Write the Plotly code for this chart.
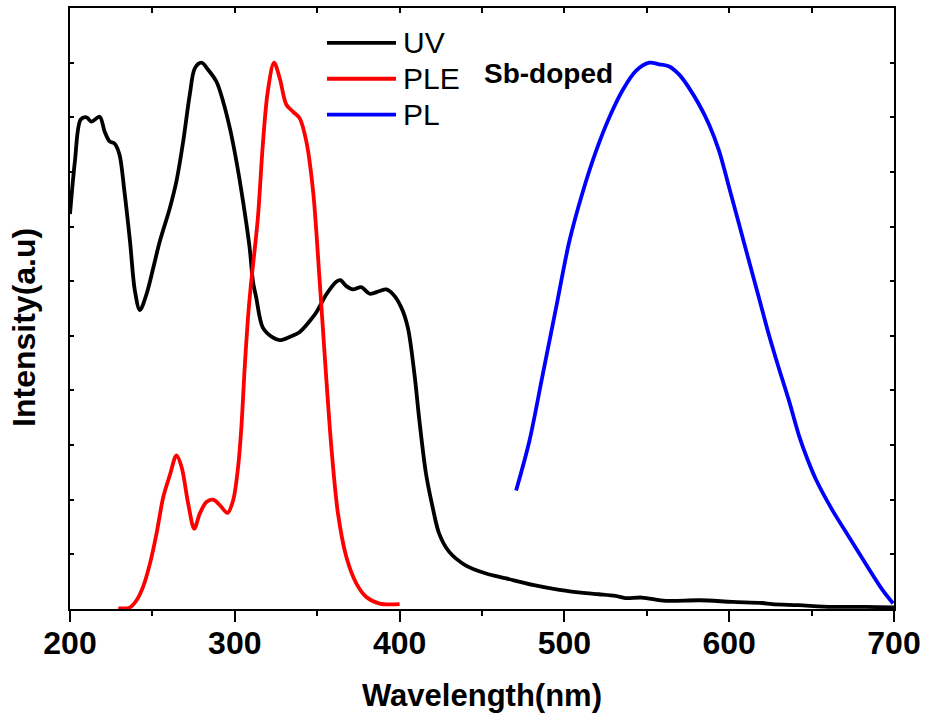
import plotly.graph_objects as go

# UV absorption spectrum
uv_wl = [200, 203, 206.5, 210, 213, 218, 221, 224, 227, 230, 233, 236.4, 239.4, 242.4,
         246.5, 250.5, 254.5, 260.6, 264.6, 268.7, 272.7, 275.8, 279.8, 283.8, 288.9,
         292.9, 297, 301, 305, 309, 311, 313, 317, 323, 327.3, 333.3, 339.4, 345.5,
         349.5, 355.6, 361.6, 364, 367.7, 371.7, 376.8, 381.8, 387.9, 391.9, 396, 401,
         405, 409, 412, 416, 420, 424, 430, 440, 452.5, 464.6, 480.8, 497, 513, 521,
         531, 537, 547, 561.6, 582, 602, 620, 626, 642, 662.6, 682.8, 700]
uv_int = [7.23, 8.2, 8.96, 9.0, 8.92, 9.01, 8.74, 8.56, 8.52, 8.32, 7.65, 6.73, 5.82, 5.47,
          5.77, 6.24, 6.73, 7.34, 7.83, 8.56, 9.42, 9.9, 10.0, 9.87, 9.65,
          9.29, 8.8, 8.19, 7.46, 6.61, 6.0, 5.7, 5.15, 4.97, 4.92, 4.98, 5.07, 5.27,
          5.43, 5.76, 5.99, 6.02, 5.91, 5.85, 5.89, 5.77, 5.82, 5.85, 5.76, 5.52,
          5.15, 4.3, 3.45, 2.48, 1.87, 1.38, 1.05, 0.80, 0.65, 0.56, 0.44, 0.35, 0.29, 0.27,
          0.24, 0.2, 0.21, 0.15, 0.16, 0.13, 0.11, 0.09, 0.07, 0.04, 0.04, 0.03]

# Photoluminescence excitation spectrum
ple_wl = [229.3, 236.4, 240.4, 244.4, 248.5, 252.5, 256.6, 260.6, 264.6, 267.7, 271.7,
          275.4, 278.8, 282.8, 286.9, 290.9, 295.6, 299, 302, 304, 306, 308, 309.5, 314,
          317, 320, 323.8, 327.3, 331.3, 335.4, 339.4, 343.4, 347.5, 351.5, 355.6, 358.6,
          362.6, 367.7, 373.7, 379.8, 387.9, 400]
ple_int = [0.01, 0.03, 0.16, 0.41, 0.83, 1.38, 2.05, 2.45, 2.81, 2.6, 1.93,
           1.47, 1.75, 1.96, 2.0, 1.9, 1.76, 1.99, 2.6, 3.33, 4.42, 5.33, 5.85, 7.16,
           8.5, 9.47, 10.0, 9.71, 9.23, 9.1, 8.98, 8.56, 7.65, 6.0, 4.18, 2.96,
           1.75, 0.95, 0.47, 0.22, 0.1, 0.09]

# Photoluminescence emission spectrum
pl_wl = [470.7, 478.8, 486.9, 495, 503, 511, 519.2, 527.3, 535.4, 543.4, 551.5, 557.6,
         563.6, 569.7, 575.8, 581.8, 587.9, 593.9, 600, 606, 612, 618, 624, 630, 636.4,
         642.4, 647.5, 652.5, 662.6, 672.7, 682.8, 693, 699.5]
pl_int = [2.17, 3.08, 4.30, 5.52, 6.73, 7.62, 8.38, 9.0, 9.5, 9.85, 10.0, 9.97,
          9.93, 9.78, 9.53, 9.23, 8.86, 8.38, 7.71, 7.04, 6.37, 5.70, 5.03, 4.42, 3.8,
          3.17, 2.74, 2.38, 1.81, 1.32, 0.83, 0.35, 0.1]

assert len(uv_wl) == len(uv_int)
assert len(ple_wl) == len(ple_int)
assert len(pl_wl) == len(pl_int)

series_names = ["UV", "PLE", "PL"]
series_colors = ["#000000", "#ff0000", "#0000ff"]
sample_label = "Sb-doped"

FONT = "Arial, 'Liberation Sans', sans-serif"
LINE_W = 3.8

fig = go.Figure()
for wl, inten, name, color in zip([uv_wl, ple_wl, pl_wl], [uv_int, ple_int, pl_int],
                                  series_names, series_colors):
    fig.add_trace(go.Scatter(x=wl, y=inten, mode="lines", name=name,
                             line=dict(color=color, width=LINE_W, shape="spline", smoothing=0.9),
                             showlegend=False, cliponaxis=True))

# invisible trace to drive the top axis (inward minor ticks)
fig.add_trace(go.Scatter(x=[200, 700], y=[0, 0], xaxis="x2", mode="lines",
                         line=dict(width=0), showlegend=False, hoverinfo="skip"))

# hand-built legend keys in the upper middle of the frame
leg_x0, leg_x1, leg_text_x = (327 - 70) / 824, (396 - 70) / 824, (401 - 70) / 824
leg_rows = [41, 77, 113]
for row_px, name, color in zip(leg_rows, series_names, series_colors):
    yp = (609 - row_px) / 603
    fig.add_shape(type="line", xref="paper", yref="paper", x0=leg_x0, x1=leg_x1,
                  y0=yp, y1=yp, line=dict(color=color, width=LINE_W))
    fig.add_annotation(xref="paper", yref="paper", x=leg_text_x, y=yp, text=name,
                       showarrow=False, xanchor="left", yanchor="middle",
                       font=dict(family=FONT, size=30, color="black"))

fig.add_annotation(xref="paper", yref="paper", x=(548 - 70) / 824, y=(609 - 72) / 603,
                   text=f"<b>{sample_label}</b>", showarrow=False,
                   xanchor="center", yanchor="middle",
                   font=dict(family=FONT, size=28, color="black"))

fig.add_annotation(xref="paper", yref="paper", x=-46 / 824, y=(609 - 327) / 603,
                   text="<b>Intensity(a.u)</b>", showarrow=False, textangle=-90,
                   xanchor="center", yanchor="middle",
                   font=dict(family=FONT, size=32, color="black"))

fig.update_layout(
    width=928, height=724,
    margin=dict(l=70, r=34, t=6, b=115),
    paper_bgcolor="white", plot_bgcolor="white",
    font=dict(family=FONT, color="black"),
    xaxis=dict(
        range=[200, 700], dtick=100, tick0=200,
        ticks="outside", ticklen=11, tickwidth=2, tickcolor="black",
        minor=dict(dtick=50, tick0=200, ticks="outside", ticklen=5, tickwidth=2, tickcolor="black"),
        showline=True, linewidth=2, linecolor="black", mirror=True,
        showgrid=False, zeroline=False,
        tickfont=dict(family=FONT, size=32, color="black"),
        tickprefix="<b>", ticksuffix="</b>",
        ticklabelstandoff=-6,
        title=dict(text="<b>Wavelength(nm)</b>", standoff=24,
                   font=dict(family=FONT, size=31, color="black")),
    ),
    xaxis2=dict(
        range=[200, 700], overlaying="x", side="top", dtick=50, tick0=200,
        ticks="inside", ticklen=5, tickwidth=2, tickcolor="black",
        showticklabels=False, showline=False, showgrid=False, zeroline=False,
    ),
    yaxis=dict(
        range=[0, 11], dtick=1, tick0=0,
        ticks="inside", ticklen=4, tickwidth=2, tickcolor="black",
        showticklabels=False,
        showline=True, linewidth=2, linecolor="black", mirror="ticks",
        showgrid=False, zeroline=False,
    ),
)

fig.write_html("out.html")
